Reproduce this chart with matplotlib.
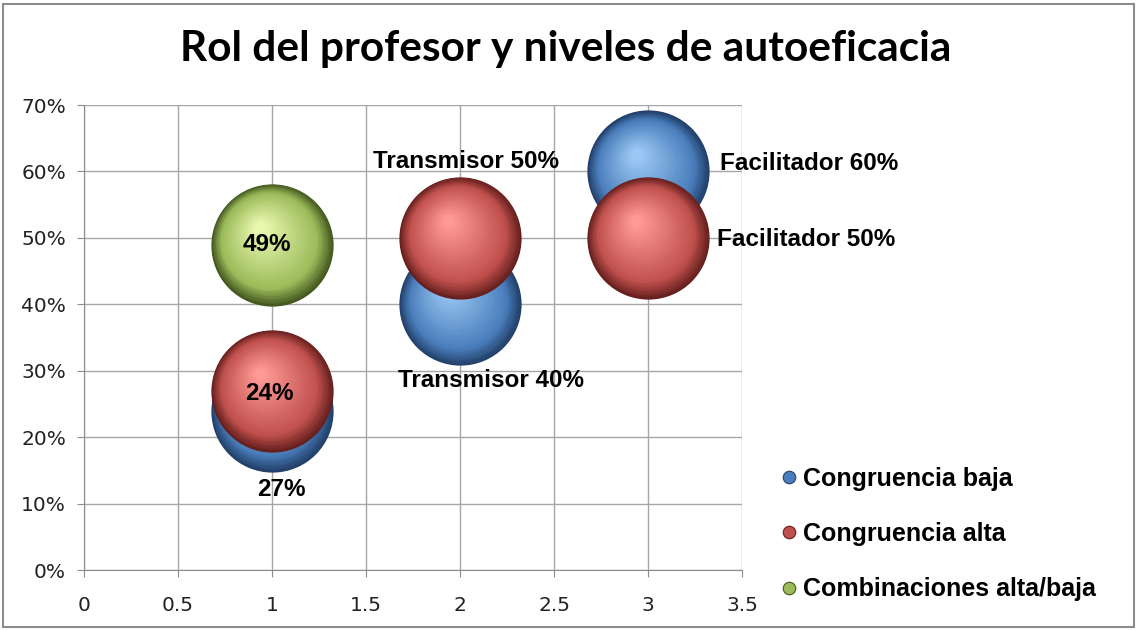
import numpy as np
import matplotlib
matplotlib.use('Agg')
import matplotlib.pyplot as plt
from matplotlib.ticker import PercentFormatter
from matplotlib.transforms import offset_copy
from matplotlib.colors import to_rgb
from matplotlib.lines import Line2D
from matplotlib.patches import Rectangle

# data
series_names = ['Congruencia baja', 'Congruencia alta', 'Combinaciones alta/baja']
baja_x = [1, 2, 3]
baja_y = [0.24, 0.40, 0.60]
baja_labels = ['27%', 'Transmisor 40%', 'Facilitador 60%']
alta_x = [1, 2, 3]
alta_y = [0.27, 0.50, 0.50]
alta_labels = ['24%', 'Transmisor 50%', 'Facilitador 50%']
comb_x = [1]
comb_y = [0.49]
comb_labels = ['49%']

# (dark, base, light) per series
colors = [('#22406a', '#4a7ebb', '#9cc8f5'),
          ('#66201e', '#c0504d', '#ff9a96'),
          ('#445820', '#9bbb59', '#eaf8b0')]

# label offsets in points, alignment
baja_offs = [((7, -57), 'center'), ((22, -55), 'center'), ((52, 6), 'left')]
alta_offs = [((-2, -2), 'center'), ((4, 55), 'center'), ((50, -1), 'left')]
comb_offs = [((-4, 0), 'center')]

fig = plt.figure(figsize=(11.39, 6.30), dpi=100)
ax = fig.add_axes([0.0737, 0.0952, 0.5778, 0.7381])


def mix(c1, c2, t):
    a = np.array(to_rgb(c1))
    b = np.array(to_rgb(c2))
    return tuple(a + (b - a) * t)


def sphere(ax, xs, ys, cols, R=44, n=40, z=2):
    dark, base, light = cols
    for i in range(n):
        t = i / (n - 1)
        r = R * (1 - 0.92 * t)
        dx = -0.2 * R * t
        dy = 0.28 * R * t
        if t < 0.22:
            c = mix(dark, base, t / 0.22)
        else:
            c = mix(base, light, (t - 0.22) / 0.78)
        tr = offset_copy(ax.transData, fig=fig, x=dx, y=dy, units='points')
        ax.scatter(xs, ys, s=(2 * r) ** 2, color=c, transform=tr,
                   linewidths=0, zorder=z)


sphere(ax, baja_x, baja_y, colors[0], z=2)
sphere(ax, alta_x, alta_y, colors[1], z=3)
sphere(ax, comb_x, comb_y, colors[2], z=4)

lab_font = dict(fontsize=17.5, fontweight='bold', family='Liberation Sans')
for xs, ys, labs, offs in [(baja_x, baja_y, baja_labels, baja_offs),
                           (alta_x, alta_y, alta_labels, alta_offs),
                           (comb_x, comb_y, comb_labels, comb_offs)]:
    for x, y, lab, (off, ha) in zip(xs, ys, labs, offs):
        ax.annotate(lab, xy=(x, y), xytext=off, textcoords='offset points',
                    ha=ha, va='center', zorder=10, **lab_font)

ax.set_xlim(0, 3.5)
ax.set_ylim(0, 0.7)
ax.set_xticks(np.arange(0, 3.51, 0.5))
ax.set_xticklabels(['0', '0.5', '1', '1.5', '2', '2.5', '3', '3.5'])
ax.set_yticks(np.arange(0, 0.71, 0.1))
ax.yaxis.set_major_formatter(PercentFormatter(1.0, decimals=0))
ax.grid(True, color='#a6a6a6', lw=1)
ax.set_axisbelow(True)
for s in ax.spines.values():
    s.set_visible(False)
ax.spines['left'].set_visible(True)
ax.spines['bottom'].set_visible(True)
ax.spines['left'].set_color('#8c8c8c')
ax.spines['bottom'].set_color('#8c8c8c')
ax.tick_params(colors='#8c8c8c', labelcolor='#222222', labelsize=14.5, length=5)
ax.tick_params(axis='x', pad=14)
ax.tick_params(axis='y', pad=8)

fig.text(0.497, 0.922, 'Rol del profesor y niveles de autoeficacia',
         ha='center', va='center', fontsize=30.5, fontweight='bold', family='Lato')

# legend
handles = [Line2D([], [], ls='none', marker='o', ms=9, mfc=c[1], mec=c[0], mew=0.8)
           for c in colors]
fig.legend(handles, series_names, loc='center left', bbox_to_anchor=(0.662, 0.152),
           frameon=False, handletextpad=0.05, labelspacing=1.25, handlelength=1.0,
           prop=dict(size=18, weight='bold', family='Liberation Sans'))

fig.patches.append(Rectangle((0.003, 0.004), 0.993, 0.99, transform=fig.transFigure,
                             fill=False, edgecolor='#8c8c8c', lw=1.5))

fig.savefig('out.png', dpi=100)
